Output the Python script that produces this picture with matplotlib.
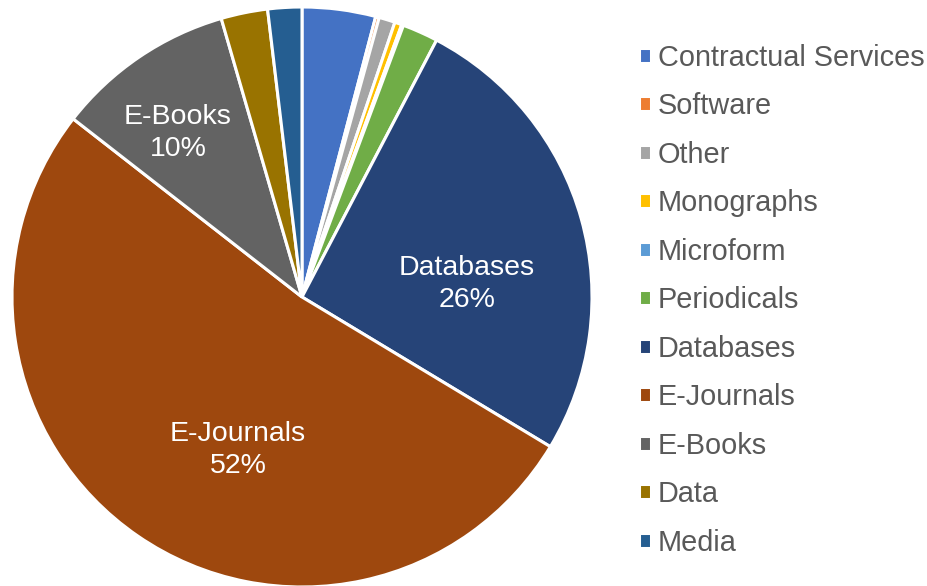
import matplotlib
matplotlib.use("Agg")
import matplotlib.pyplot as plt
import numpy as np

plt.rcParams['font.family'] = ['Liberation Sans', 'DejaVu Sans']

categories = ["Contractual Services", "Software", "Other", "Monographs", "Microform",
              "Periodicals", "Databases", "E-Journals", "E-Books", "Data", "Media"]
values = [4.1, 0.2, 0.9, 0.4, 0.1, 2.0, 26.0, 52.0, 10.0, 2.6, 1.9]
colors = ["#4472C4", "#ED7D31", "#A5A5A5", "#FFC000", "#5B9BD5", "#70AD47",
          "#264478", "#9E480E", "#636363", "#997300", "#255E91"]
label_pct = {"Databases": "26%", "E-Journals": "52%", "E-Books": "10%"}
# label anchor positions in radius units (relative to the pie centre)
label_pos = {"Databases": (0.569, 0.045), "E-Journals": (-0.221, -0.528),
             "E-Books": (-0.428, 0.566)}

W, H = 928, 586
fig = plt.figure(figsize=(W / 100, H / 100), dpi=100)
cx, cy, r = 302, 297, 290
ax = fig.add_axes([(cx - r) / W, (H - cy - r) / H, 2 * r / W, 2 * r / H])

wedges, _ = ax.pie(values, colors=colors, startangle=90, counterclock=False,
                   radius=1.0, wedgeprops=dict(edgecolor="white", linewidth=2.2))
ax.set_xlim(-1, 1)
ax.set_ylim(-1, 1)
ax.set_aspect("equal")
ax.axis("off")

for w, cat in zip(wedges, categories):
    if cat in label_pct:
        x, y = label_pos[cat]
        ax.text(x, y, f"{cat}\n{label_pct[cat]}",
                ha="center", va="center", color="white", fontsize=20.5,
                linespacing=1.32)

leg = fig.legend(wedges, categories, loc="upper left",
                 bbox_to_anchor=(627 / W, 1 - 32 / H), frameon=False,
                 fontsize=20.8, handlelength=0.42, handleheight=0.42,
                 handletextpad=0.25, labelspacing=0.71, borderaxespad=0)
for t in leg.get_texts():
    t.set_color("#595959")

fig.savefig("out.png", dpi=100)
